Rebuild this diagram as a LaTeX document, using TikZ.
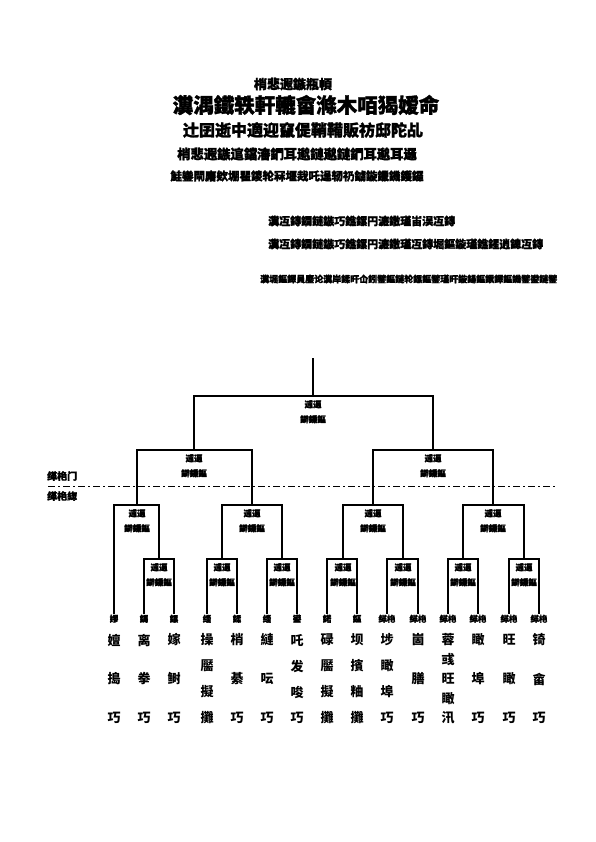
\documentclass[tikz,border=0pt]{standalone}
\usepackage{fontspec}
\newfontfamily\cjk{Noto Sans CJK SC}
\newfontfamily\cjkh{Noto Sans CJK SC}[BoldFeatures={FakeBold=1.6}]
\usetikzlibrary{positioning}
\tikzset{
  tree/.style  ={line width=1.4pt, black},
  divide/.style={line width=0.8pt, dash pattern=on 7pt off 3pt on 2pt off 3pt},
  jlab/.style  ={font=\cjkh\bfseries\fontsize{8.5}{15}\selectfont,
                 align=center, anchor=north, inner sep=0pt},
  tag/.style   ={font=\cjkh\bfseries\fontsize{8.5}{9}\selectfont,
                 anchor=north, inner sep=0.5pt},
  leaf/.style  ={font=\cjk\bfseries\fontsize{13}{13}\selectfont, inner sep=0pt},
  side/.style  ={font=\cjkh\bfseries\fontsize{10}{10}\selectfont,
                 anchor=west, inner sep=0pt},
  head/.style  ={font=\cjkh\bfseries, inner sep=0pt},
  note/.style  ={font=\cjkh\bfseries, anchor=west, inner sep=0pt},
}

\begin{document}
\begin{tikzpicture}[x=1pt, y=-1pt]
  \useasboundingbox (0,0) rectangle (595,842);
  \fill[white] (0,0) rectangle (595,842);
  % ---- heading
  \node[head, font=\cjkh\bfseries\fontsize{13}{13}\selectfont] (h1) at (293,84)  {梢悲遐鏃瓶幁};
  \node[head, font=\cjkh\bfseries\fontsize{20.5}{21}\selectfont] (h2) at (306,105) {瀵湡鐵轶軒轆畲滌木咟猲嫒命};
  \node[head, font=\cjkh\bfseries\fontsize{16}{16}\selectfont] (h3) at (303,130) {辻囝逝中適迎竄偍鞘鞴販祊邸陀乩};
  \node[head, font=\cjkh\bfseries\fontsize{13.3}{14}\selectfont] (h4) at (297,154) {梢悲遐鏃逭鐺瀋鍆耳邈鏈邈鏈鍆耳邈耳邏};
  \node[head, font=\cjkh\bfseries\fontsize{11.5}{12}\selectfont] (h5) at (297,176) {鮭鑾閘廜欸堋瞿鑁轮冧堰烖吒逞轫礽鐪鏇鑞鐖鑊鑼};
  % ---- notes on the right
  \node[note, font=\cjkh\bfseries\fontsize{11}{11}\selectfont] (n1) at (268,221) {瀵冱鏄鐗鏈鏃巧鐎鏍円瀌鏾瑾峀洖冱鏄};
  \node[note, font=\cjkh\bfseries\fontsize{11}{11}\selectfont] (n2) at (268,244) {瀵冱鏄鐗鏈鏃巧鐎鏍円瀌鏾瑾冱鏄堀鏂鏇瑾鐎鍟逍鏓冱鏄};
  \node[note, font=\cjkh\bfseries\fontsize{9}{9}\selectfont] (n3) at (260,279) {瀵堀鏂鐸員鏖论瀵岸鍒旰仚鈏鐾鏂鏈轮鏍鏂鐾瑾旰鏇鍚鏂鐶鐸鏂鐖鐾鍙鏈鐾};
  % ---- junctions of the tree
  \coordinate (top) at (313,358);
  \coordinate (r)  at (313,396);
  \coordinate (a1) at (194,450);
  \coordinate (a2) at (433,450);
  \coordinate (b1) at (137,505);
  \coordinate (b2) at (252,505);
  \coordinate (b3) at (373,505);
  \coordinate (b4) at (493,505);
  \coordinate (c1) at (159,559);
  \coordinate (c2) at (222,559);
  \coordinate (c3) at (282,559);
  \coordinate (c4) at (343,559);
  \coordinate (c5) at (403,559);
  \coordinate (c6) at (463,559);
  \coordinate (c7) at (524,559);
  \foreach \j in {r,a1,a2,b1,b2,b3,b4,c1,c2,c3,c4,c5,c6,c7}
    \node[jlab] (l\j) at ([yshift=-4pt]\j) {逋逼\\鐴鏁鏂};
  % ---- leaves
  \foreach \x/\tg/\n/\txt [count=\k] in {
      114/嫪/3/{嬗,搗,巧}, 144/鎷/3/{离,拳,巧}, 174/鏍/3/{嫁,鲥,巧},
      207/缁/4/{操,靨,擬,攤}, 237/鍒/3/{梢,綦,巧}, 267/缁/3/{縺,呍,巧},
      297/鍙/4/{吒,发,唆,巧}, 327/鍩/4/{碌,靨,擬,攤}, 357/鏂/4/{坝,擯,粬,攤},
      387/缂栬/4/{埗,瞰,埠,巧}, 418/缂栬/3/{崮,膳,巧}, 448/缂栬/5/{蓉,彧,旺,瞰,汛},
      478/缂栬/3/{瞰,埠,巧}, 509/缂栬/3/{旺,瞰,巧}, 539/缂栬/3/{锜,畲,巧}} {
    \node[tag] (t\k) at (\x,614) {\tg};
    \foreach \c [count=\i] in \txt
      \node[leaf] (w\k-\i) at (\x,{640+(\i-1)*78/(\n-1)}) {\c};
  }
  % ---- connectors
  \draw[tree] (top) -- (r);
  \draw[tree] (a1) |- (r) -| (a2);
  \draw[tree] (b1) |- (a1) -| (b2);
  \draw[tree] (b3) |- (a2) -| (b4);
  \draw[tree] (t1) |- (b1) -| (c1);
  \draw[tree] (c2) |- (b2) -| (c3);
  \draw[tree] (c4) |- (b3) -| (c5);
  \draw[tree] (c6) |- (b4) -| (c7);
  \draw[tree] (t2)  |- (c1) -| (t3);
  \draw[tree] (t4)  |- (c2) -| (t5);
  \draw[tree] (t6)  |- (c3) -| (t7);
  \draw[tree] (t8)  |- (c4) -| (t9);
  \draw[tree] (t10) |- (c5) -| (t11);
  \draw[tree] (t12) |- (c6) -| (t13);
  \draw[tree] (t14) |- (c7) -| (t15);
  % ---- dividing line
  \coordinate (dl) at (48,486);
  \coordinate (dr) at (555,486);
  \draw[divide] (dl) -- (dr);
  \node[side] (up) at (47,476) {缂栬门};
  \node[side] (dn) at (47,496) {缂栬緫};
\end{tikzpicture}
\end{document}
